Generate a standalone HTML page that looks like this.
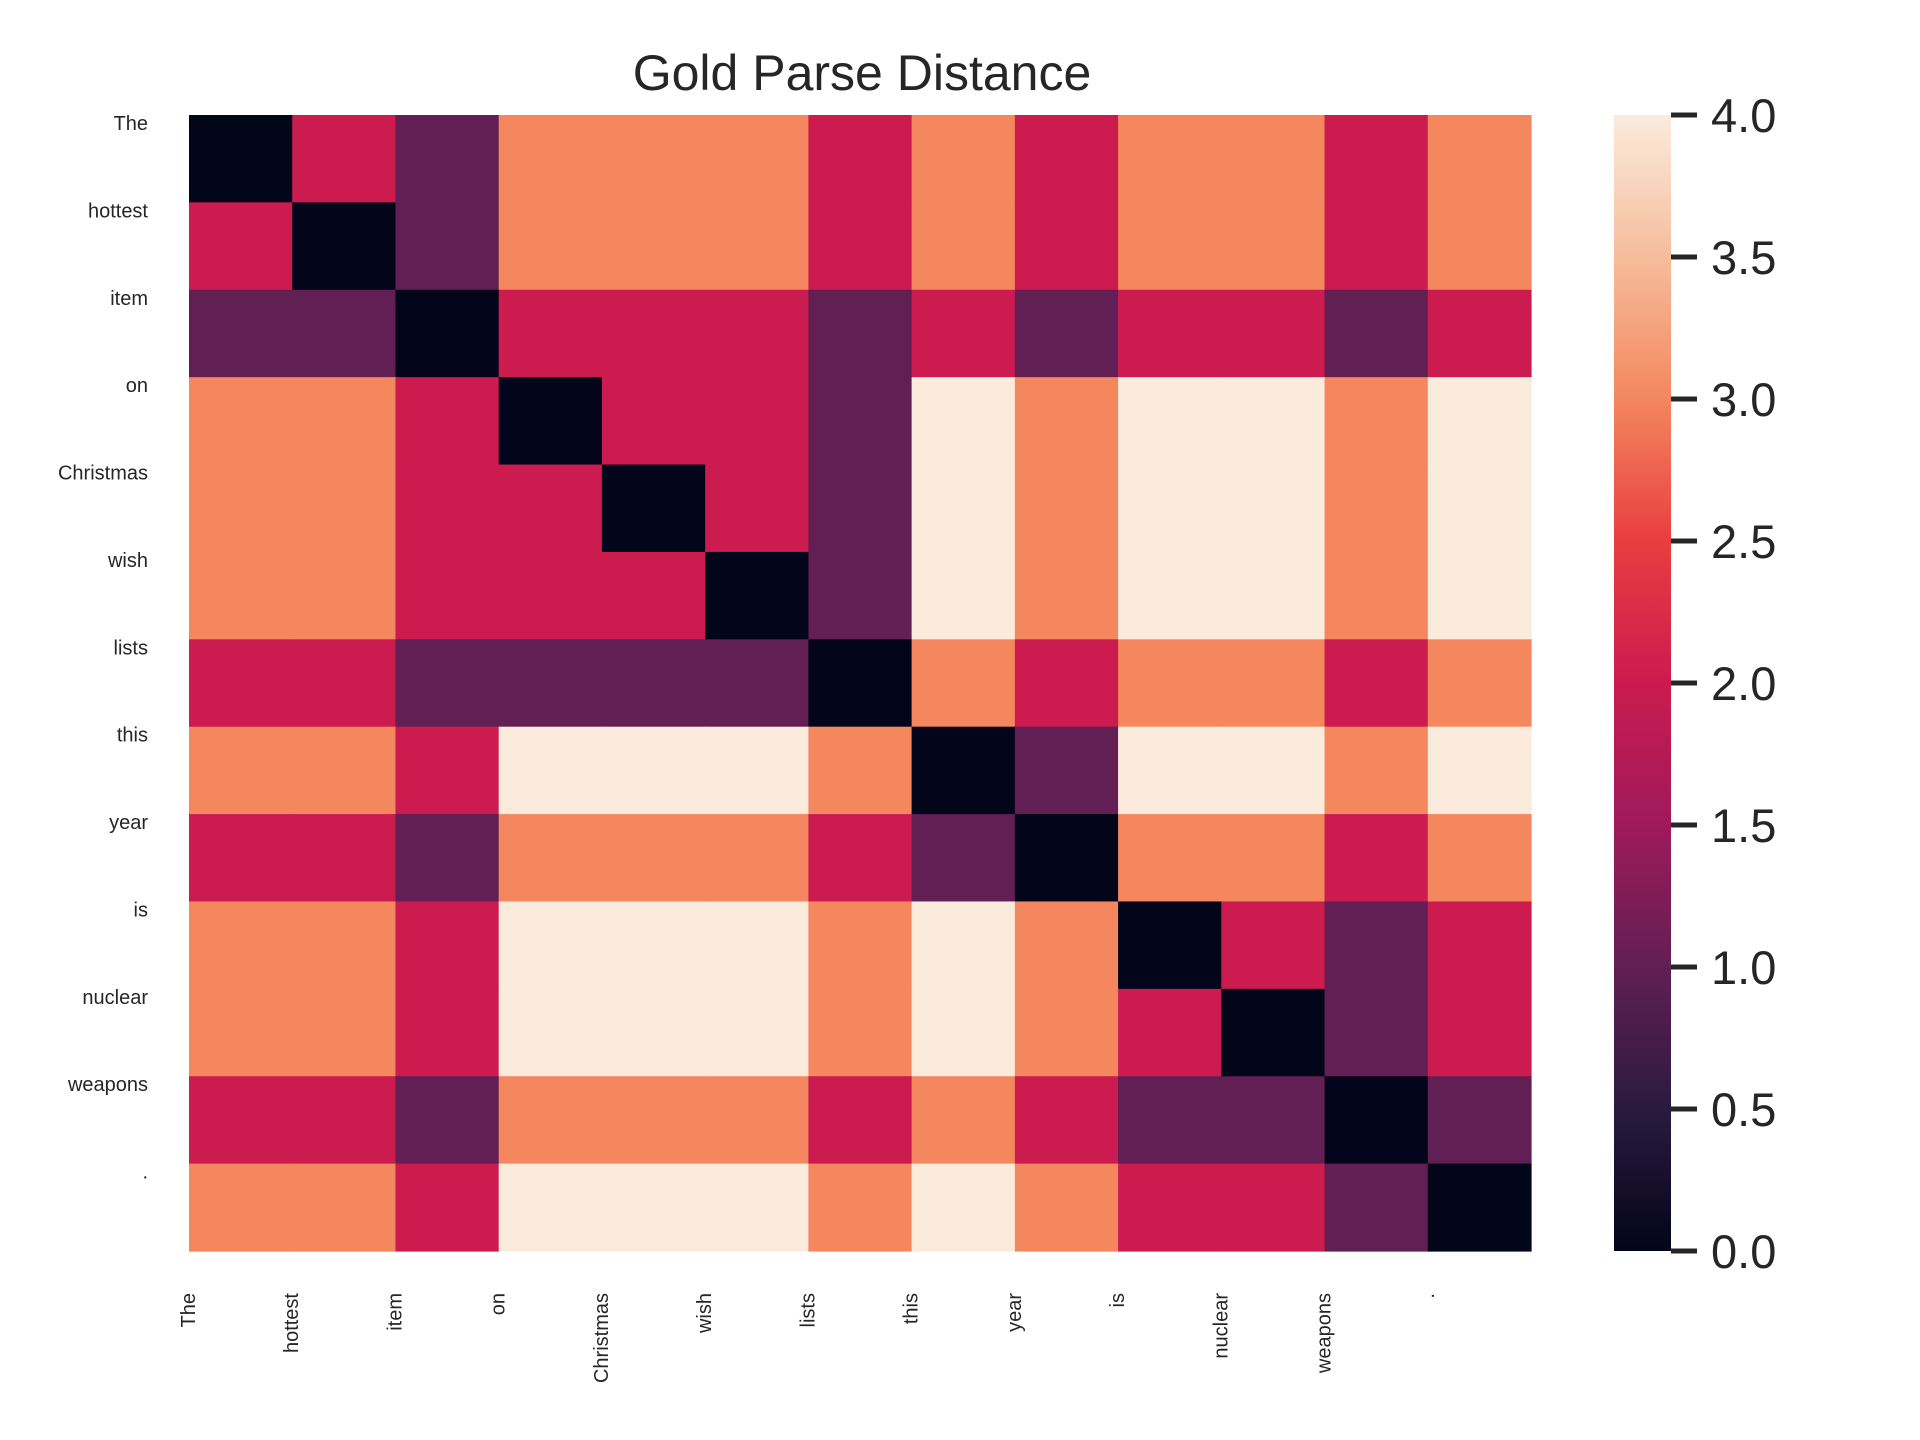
<!DOCTYPE html>
<html><head><meta charset="utf-8"><style>
html,body{margin:0;padding:0;background:#fff;}
svg{display:block;font-family:"Liberation Sans",Arial,sans-serif;}
</style></head><body>
<svg id="chart" width="1920" height="1440" xmlns="http://www.w3.org/2000/svg">
<defs>
<linearGradient id="rocket" x1="0" y1="1" x2="0" y2="0">
<stop offset="0" stop-color="#03051a"/>
<stop offset="0.125" stop-color="#2b1a3e"/>
<stop offset="0.25" stop-color="#611f53"/>
<stop offset="0.375" stop-color="#9f1a5b"/>
<stop offset="0.5" stop-color="#cb1b4f"/>
<stop offset="0.625" stop-color="#e83e40"/>
<stop offset="0.75" stop-color="#f4875e"/>
<stop offset="0.875" stop-color="#f6bd9c"/>
<stop offset="1" stop-color="#faebdd"/>
</linearGradient>
</defs>
<text x="862" y="90" text-anchor="middle" font-size="50" fill="#262626">Gold Parse Distance</text>
<g id="cells"></g>
<g id="ylabels"></g>
<g id="xlabels"></g>
<rect x="1614" y="115" width="57" height="1136" fill="url(#rocket)"/>
<g id="cbticks"></g>
</svg>
<script>
const words = ["The","hottest","item","on","Christmas","wish","lists","this","year","is","nuclear","weapons","."];
const row0 = [0,2,1,3,3,3,2,3,2,3,3,2,3];
const row1 = [2,0,1,3,3,3,2,3,2,3,3,2,3];
const row2 = [1,1,0,2,2,2,1,2,1,2,2,1,2];
const row3 = [3,3,2,0,2,2,1,4,3,4,4,3,4];
const row4 = [3,3,2,2,0,2,1,4,3,4,4,3,4];
const row5 = [3,3,2,2,2,0,1,4,3,4,4,3,4];
const row6 = [2,2,1,1,1,1,0,3,2,3,3,2,3];
const row7 = [3,3,2,4,4,4,3,0,1,4,4,3,4];
const row8 = [2,2,1,3,3,3,2,1,0,3,3,2,3];
const row9 = [3,3,2,4,4,4,3,4,3,0,2,1,2];
const row10 = [3,3,2,4,4,4,3,4,3,2,0,1,2];
const row11 = [2,2,1,3,3,3,2,3,2,1,1,0,1];
const row12 = [3,3,2,4,4,4,3,4,3,2,2,1,0];
const matrix = [row0,row1,row2,row3,row4,row5,row6,row7,row8,row9,row10,row11,row12];
const cbTicks = [0,0.5,1,1.5,2,2.5,3,3.5,4];
const cbTickLabels = ["0.0","0.5","1.0","1.5","2.0","2.5","3.0","3.5","4.0"];

const NS = "http://www.w3.org/2000/svg";
const X0 = 189, X1 = 1531, Y0 = 115, Y1 = 1251;
const vmin = 0, vmax = 4;
const n = words.length;
const cw = (X1 - X0) / n, ch = (Y1 - Y0) / n;
const xPos = i => X0 + i * cw;
const yPos = i => Y0 + i * ch;
const cbY = v => Y1 - (v - vmin) / (vmax - vmin) * (Y1 - Y0);

const stops = [[0,[3,5,26]],[0.125,[43,26,62]],[0.25,[97,31,83]],[0.375,[159,26,91]],[0.5,[203,27,79]],[0.625,[232,62,64]],[0.75,[244,135,94]],[0.875,[246,189,156]],[1,[250,235,221]]];
function color(v){
  let t = Math.max(0, Math.min(1, (v - vmin) / (vmax - vmin)));
  for (let k = 0; k < stops.length - 1; k++) {
    const [a, ca] = stops[k], [b, cb] = stops[k+1];
    if (t <= b) {
      const f = (t - a) / (b - a);
      const c = ca.map((x, j) => Math.round(x + (cb[j] - x) * f));
      return `rgb(${c[0]},${c[1]},${c[2]})`;
    }
  }
  return "rgb(250,235,221)";
}

const cells = document.getElementById("cells");
matrix.forEach((row, r) => {
  row.forEach((v, c) => {
    const el = document.createElementNS(NS, "rect");
    el.setAttribute("x", xPos(c));
    el.setAttribute("y", yPos(r));
    el.setAttribute("width", cw + 0.6);
    el.setAttribute("height", ch + 0.6);
    el.setAttribute("fill", color(v));
    
    
    cells.appendChild(el);
  });
});

const yl = document.getElementById("ylabels");
words.forEach((w, i) => {
  const t = document.createElementNS(NS, "text");
  t.setAttribute("x", 148);
  t.setAttribute("y", yPos(i) + 15);
  t.setAttribute("text-anchor", "end");
  t.setAttribute("font-size", "20");
  t.setAttribute("fill", "#262626");
  t.textContent = w;
  
  
  yl.appendChild(t);
});

const xl = document.getElementById("xlabels");
words.forEach((w, i) => {
  const t = document.createElementNS(NS, "text");
  const x = xPos(i) + 6;
  t.setAttribute("transform", `translate(${x},1293) rotate(-90)`);
  t.setAttribute("text-anchor", "end");
  t.setAttribute("font-size", "20");
  t.setAttribute("fill", "#262626");
  t.textContent = w;
  
  
  xl.appendChild(t);
});

const cbt = document.getElementById("cbticks");
cbTicks.forEach((v, i) => {
  const y = cbY(v);
  const l = document.createElementNS(NS, "line");
  l.setAttribute("x1", 1671); l.setAttribute("x2", 1697);
  l.setAttribute("y1", y); l.setAttribute("y2", y);
  l.setAttribute("stroke", "#262626"); l.setAttribute("stroke-width", "5");
  
  
  cbt.appendChild(l);
  const t = document.createElementNS(NS, "text");
  t.setAttribute("x", 1711);
  t.setAttribute("y", y + 17);
  t.setAttribute("font-size", "47");
  t.setAttribute("fill", "#262626");
  t.textContent = cbTickLabels[i];
  
  
  cbt.appendChild(t);
});
</script>
</body></html>
